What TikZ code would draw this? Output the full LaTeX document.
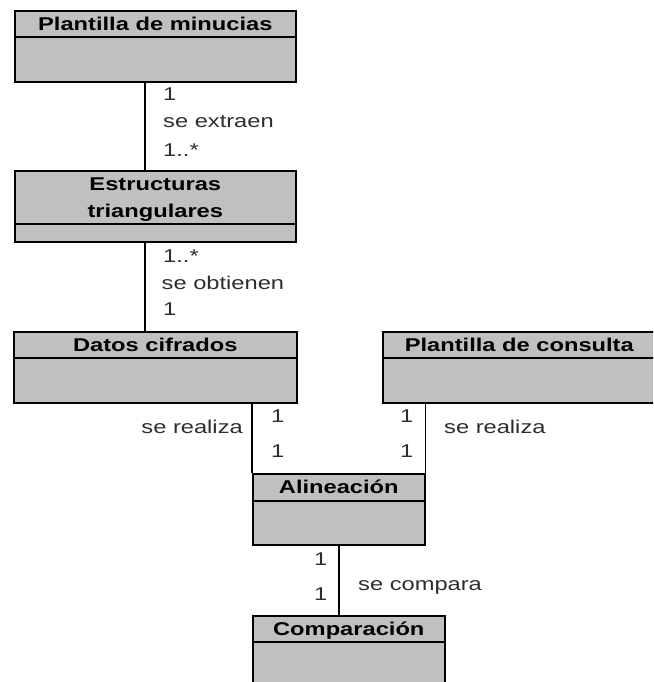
\documentclass[tikz,border=0pt]{standalone}
\usepackage{fontspec}
\setmainfont{Liberation Sans}[FakeStretch=1.28]
\usetikzlibrary{calc}
\definecolor{classfill}{RGB}{192,192,192}
\definecolor{labelgray}{RGB}{45,45,45}
\newcommand\diagfont{\fontsize{18.5}{22}\selectfont}
\tikzset{
  classbox/.style={draw=black, fill=classfill, line width=1.6pt, rectangle,
                   inner sep=0pt, anchor=north west},
  classtitle/.style={font=\diagfont\bfseries, inner sep=0pt, anchor=base, text=black},
  assoc/.style={draw=black, line width=1.6pt},
  multleft/.style={font=\diagfont, inner sep=0pt, anchor=base west, text=labelgray},
  multright/.style={font=\diagfont, inner sep=0pt, anchor=base east, text=labelgray},
}
% #1 name, #2 x, #3 y (top-left), #4 width, #5 height, #6 header height
\newcommand\umlclass[6]{%
  \node[classbox, minimum width=#4pt, minimum height=#5pt] (#1) at (#2,#3) {};
  \draw[line width=1.6pt] ($(#1.north west)+(0,#6)$) -- ($(#1.north east)+(0,#6)$);
}
\begin{document}
\begin{tikzpicture}[x=1pt, y=-1pt]
  \useasboundingbox (0,0) rectangle (653,682);
  \clip (0,0) rectangle (653,682);

  % classes
  \umlclass{pm}{14}{10}{281}{71}{27}
  \node[classtitle] (pm-t) at ($(pm.north)+(0,21)$) {Plantilla de minucias};

  \umlclass{et}{14}{170}{281}{71}{54}
  \node[classtitle] (et-t1) at ($(et.north)+(0,20)$) {Estructuras};
  \node[classtitle] (et-t2) at ($(et.north)+(0,47)$) {triangulares};

  \umlclass{dc}{13}{331}{283}{71}{27}
  \node[classtitle] (dc-t) at ($(dc.north)+(0,20)$) {Datos cifrados};

  \umlclass{pc}{382}{331}{273}{71}{27}
  \node[classtitle] (pc-t) at ($(pc.north)+(0,20)$) {Plantilla de consulta};

  \umlclass{al}{252}{473}{172}{71}{28}
  \node[classtitle] (al-t) at ($(al.north)+(0,20)$) {Alineación};

  \umlclass{cp}{252}{615}{192}{80}{27}
  \node[classtitle] (cp-t) at ($(cp.north)+(0,20)$) {Comparación};

  % associations
  \coordinate (j1) at ($(pm.south)+(-10.5,0)$);
  \draw[assoc] (j1) -- (j1 |- et.north);
  \coordinate (j2) at ($(et.south)+(-10.5,0)$);
  \draw[assoc] (j2) -- (j2 |- dc.north);
  \draw[assoc] (al.north west |- dc.south) -- (al.north west);
  \draw[assoc] (al.north east |- pc.south) -- (al.north east);
  \draw[assoc] (al.south) -- (al.south |- cp.north);

  % association labels
  \node[multleft] (m1a) at (163,101) {1};
  \node[multleft] (n1)  at (163,128) {se extraen};
  \node[multleft] (m1b) at (163,156) {1..*};

  \node[multleft] (m2a) at (163,262) {1..*};
  \node[multleft] (n2)  at (161.5,289) {se obtienen};
  \node[multleft] (m2b) at (163,315) {1};

  \node[multright] (n3)  at (243,433) {se realiza};
  \node[multleft]  (m3a) at (271,422) {1};
  \node[multleft]  (m3b) at (271,457) {1};

  \node[multleft]  (m4a) at (400,422) {1};
  \node[multleft]  (m4b) at (400,457) {1};
  \node[multleft]  (n4)  at (444,433) {se realiza};

  \node[multleft]  (m5a) at (314,565) {1};
  \node[multleft]  (m5b) at (314,600) {1};
  \node[multleft]  (n5)  at (358,590) {se compara};
\end{tikzpicture}
\end{document}
